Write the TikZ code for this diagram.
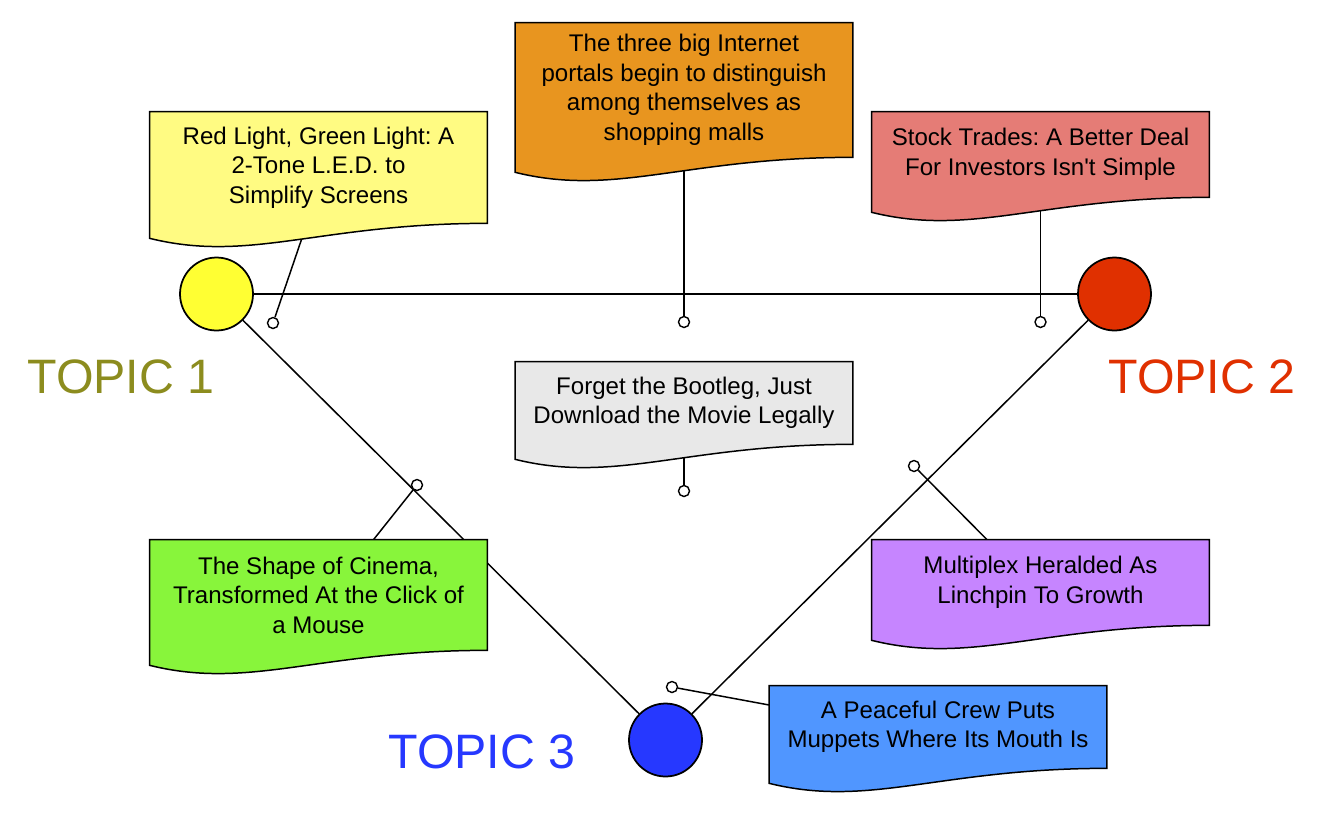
\documentclass[tikz,border=0pt]{standalone}
\usepackage{fontspec}
\setmainfont{Liberation Sans}[Ligatures=TeXOff]
\usetikzlibrary{calc}
\frenchspacing

\pgfdeclarelayer{back}
\pgfdeclarelayer{paper}
\pgfsetlayers{back,paper,main}

\definecolor{topicyellow}{HTML}{FFFF33}
\definecolor{topicred}{HTML}{E03000}
\definecolor{topicblue}{HTML}{2638FF}
\definecolor{topicolive}{HTML}{8C8C1E}
\definecolor{docyellow}{HTML}{FFFB82}
\definecolor{docorange}{HTML}{E8951F}
\definecolor{docred}{HTML}{E57C76}
\definecolor{docgrey}{HTML}{E8E8E8}
\definecolor{docgreen}{HTML}{88F53B}
\definecolor{docpurple}{HTML}{C685FF}
\definecolor{docblue}{HTML}{5096FF}

\begin{document}
\begin{tikzpicture}[
  x=0.02cm, y=-0.02cm,
  topic/.style={circle, draw, line width=1pt, minimum size=1.46cm,
              inner sep=0pt},
  pin/.style={circle, draw, fill=white, line width=0.8pt,
              minimum size=0.22cm, inner sep=0pt},
  doc/.style={minimum width=6.74cm, align=center, inner sep=0pt,
              font=\fontsize{13.7}{16.8}\selectfont},
  lbl/.style={font=\fontsize{27.5}{30}\selectfont},
  wire/.style={line width=0.85pt},
]
\useasboundingbox (0,0) rectangle (1329,816);

% === Topics ===
\node[topic, fill=topicyellow] (t1) at (216.5,294) {};
\node[topic, fill=topicred] (t2) at (1114.5,294) {};
\node[topic, fill=topicblue] (t3) at (665.5,740) {};

\node[lbl, text=topicolive] (lab1) at (121,377) {TOPIC 1};
\node[lbl, text=topicred] (lab2) at (1202,377) {TOPIC 2};
\node[lbl, text=topicblue] (lab3) at (482,752) {TOPIC 3};

% === News items ===
\node[doc, minimum height=2.22cm] (n1) at (318.5,167.5)
  {Red Light, Green Light: A\\2-Tone L.E.D. to\\Simplify Screens};
\node[doc, minimum height=2.68cm] (n2) at (684,90)
  {The three big Internet\\portals begin to distinguish\\among themselves as\\shopping malls};
\node[doc, minimum height=1.7cm] (n3) at (1040.5,154.5)
  {Stock Trades: A Better Deal\\For Investors Isn't Simple};
\node[doc, minimum height=1.64cm] (n4) at (684,403)
  {Forget the Bootleg, Just\\Download the Movie Legally};
\node[doc, minimum height=2.2cm] (n5) at (318.5,595)
  {The Shape of Cinema,\\Transformed At the Click of\\a Mouse};
\node[doc, minimum height=1.7cm] (n6) at (1040.5,582.5)
  {Multiplex Heralded As\\Linchpin To Growth};
\node[doc, minimum height=1.64cm] (n7) at (938,727)
  {A Peaceful Crew Puts\\Muppets Where Its Mouth Is};

% paper sheets with a wavy lower edge
\begin{pgfonlayer}{paper}
\foreach \d/\c in {n1/docyellow, n2/docorange, n3/docred, n4/docgrey,
                   n5/docgreen, n6/docpurple, n7/docblue}
  \draw[wire, fill=\c] (\d.north west) -- (\d.north east) -- (\d.south east)
    .. controls ($(\d.south east)+(-168,0)$) and ($(\d.south west)+(101,40)$)
    .. ($(\d.south west)+(0,15)$) -- cycle;
\end{pgfonlayer}

% === Pins ===
\node[pin] (p1) at (273,323) {};
\node[pin] (p2) at (684,322) {};
\node[pin] (p3) at (1040.5,322) {};
\node[pin] (p4) at (684,491) {};
\node[pin] (p5) at (417,485) {};
\node[pin] (p6) at (914,466) {};
\node[pin] (p7) at (672,687) {};

% Lines
\begin{pgfonlayer}{back}
\draw[wire] (t1) -- (t2);
\draw[wire] (t1) -- (t3);
\draw[wire] (t2) -- (t3);

\draw[wire] ($(n1.south)+(-11.5,0)$) -- (p1);
\draw[wire] (n2.south) -- (p2);
\draw[wire] (n3.south) -- (p3);
\draw[wire] (n4.south) -- (p4);
\draw[wire] ($(n5.north)+(55,0)$) -- (p5);
\draw[wire] ($(n6.north)+(-53.5,0)$) -- (p6);
\draw[wire] ($(n7.west)+(0,-22)$) -- (p7);
\end{pgfonlayer}

\end{tikzpicture}
\end{document}
